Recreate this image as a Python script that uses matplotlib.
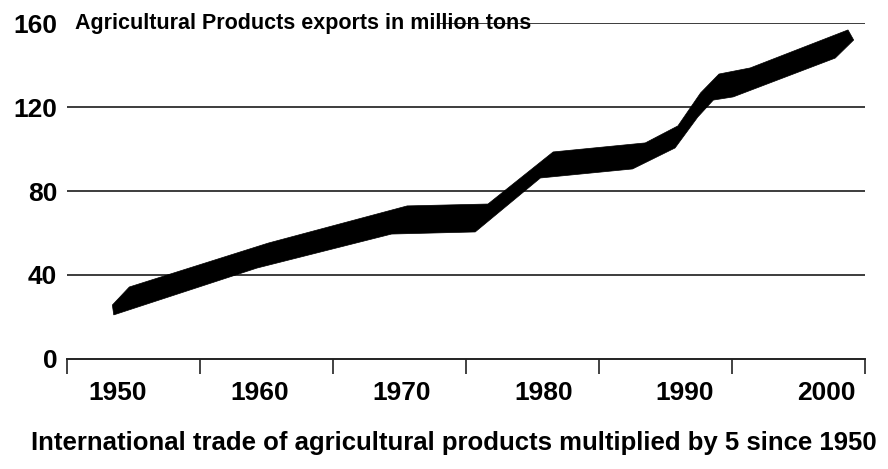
import matplotlib.pyplot as plt
from matplotlib.patches import Polygon, Rectangle
import numpy as np

# front (lower) edge of the 3D ribbon
lower_years = [1949.7, 1959.8, 1969.3, 1975.2, 1979.8, 1986.3, 1989.3, 1990.9, 1992.0, 1993.4, 2000.6]
lower_values = [21.0, 43.3, 59.5, 60.5, 86.2, 90.5, 100.5, 115.2, 123.3, 124.8, 143.3]

# back (upper) edge of the ribbon
upper_years = [1949.6, 1950.8, 1960.6, 1970.4, 1976.1, 1980.7, 1987.2, 1989.5, 1991.1, 1992.4, 1994.6, 2001.5, 2001.9]
upper_values = [25.7, 34.3, 55.2, 72.9, 73.8, 98.6, 102.9, 111.0, 126.7, 135.7, 138.6, 156.7, 151.9]

year_labels = [1950, 1960, 1970, 1980, 1990, 2000]
y_ticks = [0, 40, 80, 120, 160]

title = "Agricultural Products exports in million tons"
caption = "International trade of agricultural products multiplied by 5 since 1950"

BOLD = {"family": ["Liberation Sans", "DejaVu Sans"], "weight": "bold"}

fig = plt.figure(figsize=(8.88, 4.69), dpi=100)
ax = fig.add_axes([67 / 888, 1 - 359 / 469, 798 / 888, 336 / 469])

x_min, x_max = 1946.4, 2002.7
ax.set_xlim(x_min, x_max)
ax.set_ylim(0, 160)

### gridlines
for y in y_ticks[1:]:
    ax.axhline(y, color="#3c3c3c", linewidth=1.4, zorder=1)

### white box behind the title (hides part of the top gridline)
ax.add_patch(Rectangle((0, 0.975), 0.467, 0.05, transform=ax.transAxes,
                       facecolor="white", edgecolor="none", zorder=2, clip_on=False))

### ribbon: lower edge forward, upper edge backward
pts = list(zip(lower_years, lower_values)) + list(zip(upper_years, upper_values))[::-1]
ax.add_patch(Polygon(np.array(pts), closed=True, facecolor="black", edgecolor="black",
                     linewidth=0.5, zorder=3, clip_on=False))

### axes styling
for side in ["left", "right", "top"]:
    ax.spines[side].set_visible(False)
ax.spines["bottom"].set_color("#222222")
ax.spines["bottom"].set_linewidth(1.4)

ax.set_xticks(year_labels)
ax.set_xticklabels([str(y) for y in year_labels], fontdict=dict(BOLD, size=19))
ax.tick_params(axis="x", which="major", length=0, pad=16)
ax.set_xticks(np.linspace(x_min, x_max, 7), minor=True)
ax.tick_params(axis="x", which="minor", length=11, width=1.2, color="#222222", direction="out")

ax.set_yticks(y_ticks)
ax.set_yticklabels([str(y) for y in y_ticks], fontdict=dict(BOLD, size=19))
ax.tick_params(axis="y", length=0, pad=7)

fig.text(75 / 888, 1 - 24 / 469, title, ha="left", va="center", fontdict=dict(BOLD, size=15.5), zorder=5)
fig.text(0.511, 1 - 443 / 469, caption, ha="center", va="center", fontdict=dict(BOLD, size=18.5))

fig.savefig("out.png", dpi=100)
